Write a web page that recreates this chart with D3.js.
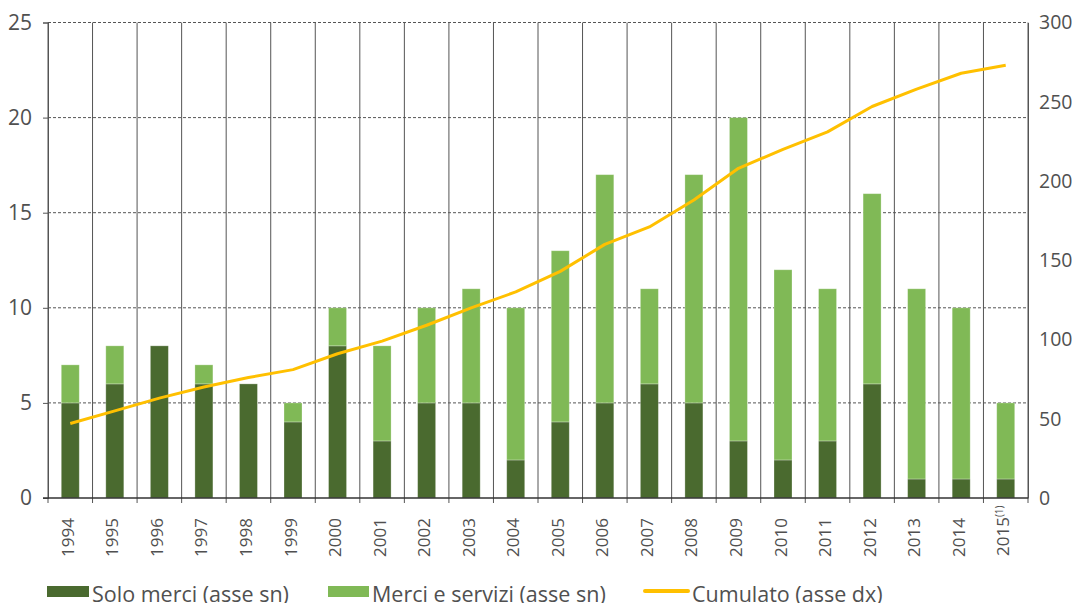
<!DOCTYPE html>
<html>
<head>
<meta charset="utf-8">
<script src="https://cdn.jsdelivr.net/npm/d3@7"></script>
<style>
  body { margin: 0; background: #fff; }
  svg { font-family: "Open Sans", sans-serif; }
</style>
</head>
<body>
<svg id="chart" width="1072" height="603"></svg>
<script>
// data
var years = ["1994", "1995", "1996", "1997", "1998", "1999", "2000", "2001", "2002", "2003", "2004",
    "2005", "2006", "2007", "2008", "2009", "2010", "2011", "2012", "2013", "2014", "2015"];
var soloMerci = [5, 6, 8, 6, 6, 4, 8, 3, 5, 5, 2, 4, 5, 6, 5, 3, 2, 3, 6, 1, 1, 1];
var merciServizi = [2, 2, 0, 1, 0, 1, 2, 5, 5, 6, 8, 9, 12, 5, 12, 17, 10, 8, 10, 10, 9, 4];
var cumulato = [47, 55, 63, 70, 76, 81, 91, 99, 109, 120, 130, 143, 160, 171, 188, 208, 220, 231, 247, 258, 268, 273];
var leftTicks = [0, 5, 10, 15, 20, 25];
var rightTicks = [0, 50, 100, 150, 200, 250, 300];
var legendLabels = ["Solo merci (asse sn)", "Merci e servizi (asse sn)", "Cumulato (asse dx)"];

drawChart();

function drawChart() {
    var colDark = "#4a6a2f",
        colLight = "#80b956",
        colLine = "#ffc000",
        textCol = "#505050",
        gridCol = "#555";

    var svg = d3.select("#chart");
    var left = 48, right = 1028, plotTop = 22.5, bottom = 498;

    var x = d3.scaleBand().domain(years).range([left, right]).paddingInner(0).paddingOuter(0);
    var yL = d3.scaleLinear().domain([0, 25]).range([bottom, plotTop]);
    var yR = d3.scaleLinear().domain([0, 300]).range([bottom, plotTop]);
    var barW = 18;

    // horizontal dashed grid
    svg.append("g").selectAll("line")
        .data(leftTicks.filter(function (d) { return d > 0; }))
        .enter().append("line")
        .attr("x1", left).attr("x2", right)
        .attr("y1", function (d) { return yL(d); })
        .attr("y2", function (d) { return yL(d); })
        .attr("stroke", gridCol)
        .attr("stroke-width", 1)
        .attr("stroke-dasharray", "3,2");

    // vertical separators
    var bounds = years.map(function (d) { return x(d); }).concat([right]);
    svg.append("g").selectAll("line")
        .data(bounds)
        .enter().append("line")
        .attr("x1", function (d) { return d; }).attr("x2", function (d) { return d; })
        .attr("y1", plotTop).attr("y2", bottom + 5)
        .attr("stroke", gridCol)
        .attr("stroke-width", 1);

    // stacked bars
    var stackData = years.map(function (y, i) { return { year: y, solo: soloMerci[i], servizi: merciServizi[i] }; });
    var series = d3.stack().keys(["solo", "servizi"])(stackData);
    var colors = [colDark, colLight];

    svg.append("g").selectAll("g")
        .data(series)
        .enter().append("g")
        .attr("fill", function (d, i) { return colors[i]; })
        .selectAll("rect")
        .data(function (d) { return d.filter(function (e) { return e[1] > e[0]; }); })
        .enter().append("rect")
        .attr("x", function (d) { return x(d.data.year) + x.bandwidth() / 2 - barW / 2; })
        .attr("width", barW)
        .attr("y", function (d) { return yL(d[1]); })
        .attr("height", function (d) { return yL(d[0]) - yL(d[1]); })
        .attr("stroke", "#fff")
        .attr("stroke-opacity", 0.35)
        .attr("stroke-width", 0.8);

    // cumulative line
    var line = d3.line()
        .x(function (d, i) { return x(years[i]) + x.bandwidth() / 2; })
        .y(function (d) { return yR(d); });

    svg.append("path")
        .datum(cumulato)
        .attr("d", line)
        .attr("fill", "none")
        .attr("stroke", colLine)
        .attr("stroke-width", 3)
        .attr("stroke-linejoin", "round");

    // axes
    var leftAxis = d3.axisLeft(yL).tickValues(leftTicks).tickSize(5).tickPadding(11);
    var gL = svg.append("g").attr("transform", "translate(" + left + ",0)").call(leftAxis);
    gL.select(".domain").attr("stroke", gridCol);

    var rightAxis = d3.axisRight(yR).tickValues(rightTicks).tickSize(0).tickPadding(11);
    var gR = svg.append("g").attr("transform", "translate(" + right + ",0)").call(rightAxis);
    gR.select(".domain").attr("stroke", gridCol);

    [gL, gR].forEach(function (g) {
        g.selectAll(".tick line").attr("stroke", gridCol);
        g.selectAll("text")
            .attr("fill", textCol)
            .style("font-family", "'Open Sans', sans-serif");
    });
    gL.selectAll("text").style("font-size", "21px");
    gR.selectAll("text").style("font-size", "19.5px");

    // x baseline
    svg.append("line")
        .attr("x1", left - 5).attr("x2", right)
        .attr("y1", bottom).attr("y2", bottom)
        .attr("stroke", "#333")
        .attr("stroke-width", 1.5);

    // year labels
    var xl = svg.append("g").selectAll("text")
        .data(years)
        .enter().append("text")
        .attr("transform", function (d) {
            return "translate(" + (x(d) + x.bandwidth() / 2 + 3.5) + ",518) rotate(-90)";
        })
        .attr("text-anchor", "end")
        .attr("fill", textCol)
        .style("font-size", "17px");

    xl.append("tspan").text(function (d) { return d; });
    xl.filter(function (d) { return d === "2015"; })
        .append("tspan")
        .attr("dy", -6)
        .style("font-size", "10px")
        .text("(1)");
    xl.filter(function (d) { return d === "2015"; })
        .attr("text-anchor", "start")
        .attr("transform", function (d) {
            return "translate(" + (x(d) + x.bandwidth() / 2 + 3.5) + ",556) rotate(-90)";
        });

    // legend
    var legend = [
        { label: legendLabels[0], x: 47, type: "rect", color: colDark, w: 42 },
        { label: legendLabels[1], x: 328, type: "rect", color: colLight, w: 41 },
        { label: legendLabels[2], x: 644, type: "line", color: colLine, w: 45 }
    ];
    var lg = svg.append("g").selectAll("g")
        .data(legend)
        .enter().append("g")
        .attr("transform", function (d) { return "translate(" + d.x + ",0)"; });

    lg.filter(function (d) { return d.type === "rect"; })
        .append("rect")
        .attr("y", 586).attr("width", function (d) { return d.w; }).attr("height", 11)
        .attr("fill", function (d) { return d.color; });
    lg.filter(function (d) { return d.type === "line"; })
        .append("line")
        .attr("x1", 1).attr("x2", function (d) { return d.w - 1; })
        .attr("y1", 591).attr("y2", 591)
        .attr("stroke", function (d) { return d.color; })
        .attr("stroke-width", 4)
        .attr("stroke-linecap", "round");
    lg.append("text")
        .attr("x", function (d) { return d.w + 3; })
        .attr("y", 602)
        .attr("fill", textCol)
        .style("font-size", "21.5px")
        .text(function (d) { return d.label; });
}
</script>
</body>
</html>
